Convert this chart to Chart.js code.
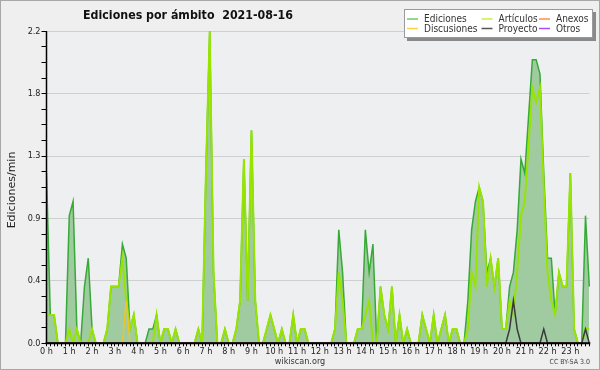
<!DOCTYPE html>
<html>
<head>
<meta charset="utf-8">
<script src="https://cdn.jsdelivr.net/npm/chart.js@4/dist/chart.umd.min.js"></script>
<style>
    html, body { margin: 0; padding: 0; background: #efefef; }
    #wrap { position: relative; width: 600px; height: 370px; }
</style>
</head>
<body>
<div id="wrap"><canvas id="myChart"></canvas></div>
<script>
(function () {
    "use strict";

    // hour tick labels, one every 6 bins of 10 minutes
    var hourLabels = ["0 h", "1 h", "2 h", "3 h", "4 h", "5 h", "6 h", "7 h", "8 h", "9 h", "10 h", "11 h",
        "12 h", "13 h", "14 h", "15 h", "16 h", "17 h", "18 h", "19 h", "20 h", "21 h", "22 h", "23 h"];

    // editions per minute, 10 minute bins (6 values per hour)
    var ediciones = [
        1.2, 0.2, 0.2, 0, 0, 0,   0.9, 1.0, 0.1, 0, 0.4, 0.6,   0.1, 0, 0, 0, 0.1, 0.4,   0.4, 0.4, 0.7, 0.6, 0.1, 0.2,
        0, 0, 0, 0.1, 0.1, 0.2,   0, 0.1, 0.1, 0, 0.1, 0,       0, 0, 0, 0, 0.1, 0,       1.2, 2.2, 0.5, 0, 0, 0.1,
        0, 0, 0.1, 0.3, 1.3, 0.3, 1.5, 0.3, 0, 0, 0.1, 0.2,     0.1, 0, 0.1, 0, 0, 0.2,   0, 0.1, 0.1, 0, 0, 0,
        0, 0, 0, 0, 0.1, 0.8,     0.5, 0, 0, 0, 0.1, 0.1,       0.8, 0.5, 0.7, 0, 0.4, 0.2, 0.1, 0.4, 0, 0.2, 0, 0.1,
        0, 0, 0, 0.2, 0.1, 0,     0.2, 0, 0.1, 0.2, 0, 0.1,     0.1, 0, 0, 0.3, 0.8, 1.0, 1.1, 1.0, 0.5, 0.6, 0.4, 0.6,
        0.1, 0.1, 0.4, 0.5, 0.8, 1.3, 1.2, 1.6, 2.0, 2.0, 1.9, 1.2, 0.6, 0.6, 0.2, 0.5, 0.4, 0.4, 1.2, 0.1, 0, 0, 0.9, 0.4
    ];
    var articulos = [
        0.2, 0.2, 0.2, 0, 0, 0,   0.1, 0, 0.1, 0, 0, 0,         0.1, 0, 0, 0, 0.1, 0.4,   0.4, 0.4, 0.6, 0.3, 0.1, 0.2,
        0, 0, 0, 0, 0, 0.2,       0, 0.1, 0.1, 0, 0.1, 0,       0, 0, 0, 0, 0.1, 0,       1.2, 2.2, 0.5, 0, 0, 0.1,
        0, 0, 0.1, 0.3, 1.3, 0.3, 1.5, 0.3, 0, 0, 0.1, 0.2,     0.1, 0, 0.1, 0, 0, 0.2,   0, 0.1, 0.1, 0, 0, 0,
        0, 0, 0, 0, 0.1, 0.5,     0.3, 0, 0, 0, 0.1, 0.1,       0.2, 0.3, 0, 0, 0.4, 0.2, 0.1, 0.4, 0, 0.2, 0, 0.1,
        0, 0, 0, 0.2, 0.1, 0,     0.2, 0, 0.1, 0.2, 0, 0.1,     0.1, 0, 0, 0.1, 0.5, 0.4, 1.1, 1.0, 0.4, 0.6, 0.4, 0.6,
        0.1, 0.1, 0.3, 0.2, 0.5, 0.9, 1.0, 1.4, 1.8, 1.7, 1.8, 1.1, 0.5, 0.3, 0.2, 0.5, 0.4, 0.4, 1.2, 0.1, 0, 0, 0.1, 0.1
    ];
    var anexos = [
        0, 0, 0, 0, 0, 0, 0, 0, 0, 0, 0, 0, 0, 0, 0, 0, 0, 0, 0, 0, 0, 0, 0, 0,
        0, 0, 0, 0, 0, 0, 0, 0, 0, 0, 0, 0, 0, 0, 0, 0, 0, 0, 0, 0, 0, 0, 0, 0,
        0, 0, 0, 0, 0, 0, 0, 0, 0, 0, 0, 0, 0, 0, 0, 0, 0, 0, 0, 0, 0, 0, 0, 0,
        0, 0, 0, 0, 0, 0, 0, 0, 0, 0, 0, 0, 0, 0, 0, 0, 0, 0, 0, 0, 0, 0, 0, 0,
        0, 0, 0, 0, 0, 0, 0, 0, 0, 0, 0, 0, 0, 0, 0, 0, 0, 0, 0, 0, 0, 0, 0, 0,
        0, 0, 0, 0, 0, 0, 0, 0, 0, 0, 0, 0, 0, 0, 0, 0, 0, 0, 0, 0, 0, 0, 0, 0
    ];
    var discusiones = [
        0, 0, 0, 0, 0, 0, 0, 0, 0, 0, 0, 0, 0, 0, 0, 0, 0, 0, 0, 0, 0, 0.3, 0, 0,
        0, 0, 0, 0, 0, 0, 0, 0, 0, 0, 0, 0, 0, 0, 0, 0, 0, 0, 0, 0, 0, 0, 0, 0,
        0, 0, 0, 0, 0, 0, 0, 0, 0, 0, 0, 0, 0, 0, 0, 0, 0, 0, 0, 0, 0, 0, 0, 0,
        0, 0, 0, 0, 0, 0, 0, 0, 0, 0, 0, 0, 0, 0, 0, 0, 0, 0, 0, 0, 0, 0, 0, 0,
        0, 0, 0, 0, 0, 0, 0, 0, 0, 0, 0, 0, 0, 0, 0, 0, 0, 0, 0, 0, 0, 0, 0, 0,
        0, 0, 0, 0, 0, 0, 0, 0, 0, 0, 0, 0, 0, 0, 0, 0, 0, 0, 0, 0, 0, 0, 0, 0
    ];
    var proyecto = [
        0, 0, 0, 0, 0, 0, 0, 0, 0, 0, 0, 0, 0, 0, 0, 0, 0, 0, 0, 0, 0, 0, 0, 0,
        0, 0, 0, 0, 0, 0, 0, 0, 0, 0, 0, 0, 0, 0, 0, 0, 0, 0, 0, 0, 0, 0, 0, 0,
        0, 0, 0, 0, 0, 0, 0, 0, 0, 0, 0, 0, 0, 0, 0, 0, 0, 0, 0, 0, 0, 0, 0, 0,
        0, 0, 0, 0, 0, 0, 0, 0, 0, 0, 0, 0, 0, 0, 0, 0, 0, 0, 0, 0, 0, 0, 0, 0,
        0, 0, 0, 0, 0, 0, 0, 0, 0, 0, 0, 0, 0, 0, 0, 0, 0, 0, 0, 0, 0, 0, 0, 0,
        0, 0, 0.1, 0.3, 0.1, 0, 0, 0, 0, 0, 0, 0.1, 0, 0, 0, 0, 0, 0, 0, 0, 0, 0, 0.1, 0
    ];
    var otros = [
        0, 0, 0, 0, 0, 0, 0, 0, 0, 0, 0, 0, 0, 0, 0, 0, 0, 0, 0, 0, 0, 0, 0, 0,
        0, 0, 0, 0, 0, 0, 0, 0, 0, 0, 0, 0, 0, 0, 0, 0, 0, 0, 0, 0, 0, 0, 0, 0,
        0, 0, 0, 0, 0, 0, 0, 0, 0, 0, 0, 0, 0, 0, 0, 0, 0, 0, 0, 0, 0, 0, 0, 0,
        0, 0, 0, 0, 0, 0, 0, 0, 0, 0, 0, 0, 0, 0, 0, 0, 0, 0, 0, 0, 0, 0, 0, 0,
        0, 0, 0, 0, 0, 0, 0, 0, 0, 0, 0, 0, 0, 0, 0, 0, 0, 0, 0, 0, 0, 0, 0, 0,
        0, 0, 0, 0, 0, 0, 0, 0, 0, 0, 0, 0, 0, 0, 0, 0, 0, 0, 0, 0, 0, 0, 0, 0
    ];

    var yMax = 2.2;
    var yMajorStep = 0.44;

    // category labels: hour label every 6th bin, blank otherwise
    var labels = [];
    for (var i = 0; i < ediciones.length; i++) {
        labels.push(i % 6 === 0 ? hourLabels[i / 6] : "");
    }

    var condensed = "'DejaVu Sans Condensed', 'DejaVu Sans', sans-serif";
    Chart.defaults.font.family = condensed;
    Chart.defaults.color = "#222";

    function line(label, data, color, order, legendColor) {
        return {
            label: label,
            data: data,
            borderColor: color,
            legendColor: legendColor,
            borderWidth: 1.5,
            pointRadius: 0,
            tension: 0,
            fill: false,
            order: order
        };
    }

    var edSet = line("Ediciones", ediciones, "#36a936", 6, "#6fc86f");
    edSet.fill = "origin";
    edSet.backgroundColor = "#a0cba0";

    var artSet = line("Artículos", articulos, "#97e400", 5, "#c8f23c");
    artSet.borderWidth = 2;

    var datasets = [
        edSet,
        artSet,
        line("Anexos", anexos, "#ff7a3c", 4, "#ff8c50"),
        line("Discusiones", discusiones, "#f0c428", 3, "#ffd040"),
        line("Proyecto", proyecto, "#3a3a3a", 1, "#555555"),
        line("Otros", otros, "#9a3cf0", 2, "#a050ff")
    ];

    var decor = {
        id: "decor",
        beforeDraw: function (chart) {
            var c = chart.ctx, a = chart.chartArea;
            c.save();
            c.fillStyle = "#efefef";
            c.fillRect(0, 0, chart.width, chart.height);
            c.fillStyle = "#eeeff1";
            c.fillRect(a.left, a.top, a.right - a.left, a.bottom - a.top);
            c.restore();
        },
        afterDatasetsDraw: function (chart) {
            var c = chart.ctx, a = chart.chartArea;
            c.save();
            c.strokeStyle = "#000";
            c.lineWidth = 2;
            c.beginPath();
            c.moveTo(a.left - 1, a.bottom);
            c.lineTo(a.right + 1, a.bottom);
            c.stroke();
            c.lineWidth = 1.5;
            c.beginPath();
            c.moveTo(a.left, a.top);
            c.lineTo(a.left, a.bottom);
            c.stroke();
            c.restore();
        },
        afterDraw: function (chart) {
            var c = chart.ctx;
            c.save();

            // title
            c.fillStyle = "#111";
            c.font = "bold 12.3px " + condensed;
            c.textAlign = "center";
            c.textBaseline = "middle";
            c.fillText("Ediciones por ámbito  2021-08-16", 188, 16);

            // y axis title
            c.save();
            c.translate(12, 190);
            c.rotate(-Math.PI / 2);
            c.font = "11px 'DejaVu Sans', sans-serif";
            c.fillStyle = "#222";
            c.fillText("Ediciones/min", 0, 0);
            c.restore();

            // legend box with shadow
            var bx = 404, by = 9, bw = 189, bh = 29;
            c.fillStyle = "#8a8a8a";
            c.fillRect(bx + 3, by + 3, bw, bh);
            c.fillStyle = "#ffffff";
            c.fillRect(bx, by, bw, bh);
            c.strokeStyle = "#9a9a9a";
            c.lineWidth = 1;
            c.strokeRect(bx + 0.5, by + 0.5, bw - 1, bh - 1);
            var colX = [407, 481.5, 539];
            var rowY = [19, 28.5];
            c.font = "10px " + condensed;
            c.textAlign = "left";
            chart.data.datasets.forEach(function (ds, k) {
                var x = colX[k % 3], y = rowY[Math.floor(k / 3)];
                c.strokeStyle = ds.legendColor;
                c.lineWidth = 1.5;
                c.beginPath();
                c.moveTo(x, y);
                c.lineTo(x + 11, y);
                c.stroke();
                c.fillStyle = "#333";
                c.fillText(ds.label, x + 17, y + 0.5);
            });

            // footer
            c.textAlign = "center";
            c.fillStyle = "#333";
            c.font = "9px " + condensed;
            c.fillText("wikiscan.org", 300, 361.5);
            c.textAlign = "right";
            c.font = "7px " + condensed;
            c.fillStyle = "#444";
            c.fillText("CC BY-SA 3.0", 590, 362.5);

            // outer frame
            c.strokeStyle = "#a8a8a8";
            c.lineWidth = 1;
            c.strokeRect(0.5, 0.5, chart.width - 1, chart.height - 1);
            c.restore();
        }
    };

    var ctx = document.getElementById("myChart");
    new Chart(ctx, {
        type: "line",
        data: {
            labels: labels,
            datasets: datasets
        },
        plugins: [decor],
        options: {
            responsive: true,
            maintainAspectRatio: false,
            animation: false,
            layout: {
                padding: { left: 0, right: 10.7, top: 31.3, bottom: 0 }
            },
            scales: {
                x: {
                    type: "category",
                    offset: false,
                    border: { display: false },
                    grid: {
                        drawOnChartArea: false,
                        drawTicks: true,
                        tickLength: 3,
                        tickColor: "#000",
                        tickWidth: 1
                    },
                    ticks: {
                        autoSkip: false,
                        maxRotation: 0,
                        minRotation: 0,
                        padding: 0,
                        color: "#222",
                        font: { size: 9 }
                    },
                    afterFit: function (scale) {
                        scale.height = 26.7;
                    }
                },
                y: {
                    min: 0,
                    max: yMax,
                    border: { display: false },
                    grid: {
                        color: function (c) {
                            return c.index % 4 === 0 ? "#cfcfcf" : "rgba(0,0,0,0)";
                        },
                        tickColor: "#000",
                        tickLength: 5,
                        lineWidth: 1
                    },
                    ticks: {
                        stepSize: yMajorStep / 4,
                        padding: 1,
                        color: "#222",
                        font: { size: 9 },
                        callback: function (value, index) {
                            return index % 4 === 0 ? value.toFixed(1) : "";
                        }
                    },
                    afterFit: function (scale) {
                        scale.width = 46.5;
                    }
                }
            },
            plugins: {
                legend: { display: false },
                tooltip: { enabled: false }
            }
        }
    });
})();
</script>
</body>
</html>
